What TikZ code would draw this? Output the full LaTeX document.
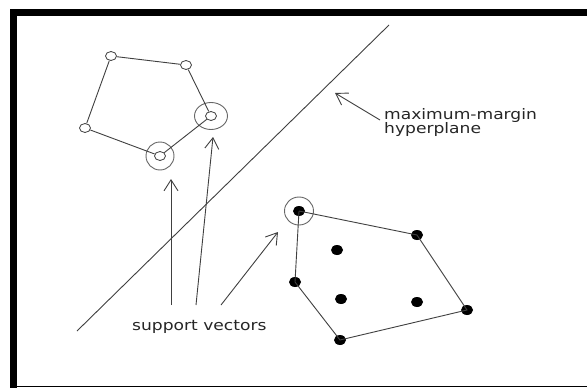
\documentclass[tikz,border=0pt]{standalone}
\usepackage{fontspec}
\newfontfamily\lbl[FakeStretch=1.18]{DejaVu Sans}
\usetikzlibrary{shapes.geometric,arrows.meta}
\begin{document}
\begin{tikzpicture}[x=1pt,y=-1pt,
  ln/.style={draw=black!75, line width=0.9pt},
  opn/.style={ellipse, draw=black!75, line width=0.8pt, minimum width=11pt, minimum height=9pt, inner sep=0pt},
  dot/.style={ellipse, fill=black, minimum width=12pt, minimum height=10pt, inner sep=0pt},
  ring/.style={ellipse, draw=black!60, line width=0.9pt, inner sep=0pt},
  arr/.style={draw=black!75, line width=0.9pt, -{Straight Barb[length=11pt,width=14pt]}},
  lab/.style={font=\lbl\fontsize{14.5pt}{14pt}\selectfont, text=black!85, inner sep=0pt, anchor=base west}]
\path[use as bounding box, fill=white] (0,0) rectangle (587,388);
% frame
\fill[black] (10,9) rectangle (587,16);
\fill[black] (10,9) rectangle (17,388);
\draw[black, line width=1.5pt] (10,386.5) -- (587,386.5);
% hyperplane
\coordinate (hA) at (389,25);
\coordinate (hB) at (77,331);
\draw[ln] (hA) -- (hB);
% left polygon (open circles)
\node[opn] (a1) at (111,56) {};
\node[opn] (a2) at (186,65) {};
\node[opn] (a3) at (211,116) {};
\node[opn] (a4) at (160,156) {};
\node[opn] (a5) at (85,128) {};
\node[ring, minimum width=33pt, minimum height=27pt] (r1) at (211,116) {};
\node[ring, minimum width=28pt, minimum height=28pt] (r2) at (160,156) {};
\draw[ln] (a1) -- (a2) -- (a3) -- (a4) -- (a5) -- (a1);
% right polygon (filled dots)
\node[dot] (b1) at (299,211) {};
\node[dot] (b2) at (417,235) {};
\node[dot] (b3) at (467,310) {};
\node[dot] (b4) at (340,340) {};
\node[dot] (b5) at (295,282) {};
\node[dot] (c1) at (337,250) {};
\node[dot] (c2) at (341,299) {};
\node[dot] (c3) at (417,302) {};
\node[ring, minimum width=29pt, minimum height=28pt] (r3) at (299,211) {};
\draw[ln] (b1.center) -- (b2.center) -- (b3.center) -- (b4.center) -- (b5.center) -- (b1.center);
% labels
\node[lab] (t1) at (384,119) {maximum-margin};
\node[lab] (t2) at (384,133) {hyperplane};
\node[lab] (t3) at (132,330.5) {support vectors};
% arrows
\coordinate (m0) at (380,120);
\coordinate (m1) at (335,93);
\draw[arr] (m0) -- (m1);
\coordinate (s1a) at (171,305);
\coordinate (s1b) at (171,179);
\coordinate (s2a) at (196,305);
\coordinate (s2b) at (213,137);
\coordinate (s3a) at (221,305);
\coordinate (s3b) at (278,232);
\draw[arr] (s1a) -- (s1b);
\draw[arr] (s2a) -- (s2b);
\draw[arr] (s3a) -- (s3b);
\end{tikzpicture}
\end{document}
